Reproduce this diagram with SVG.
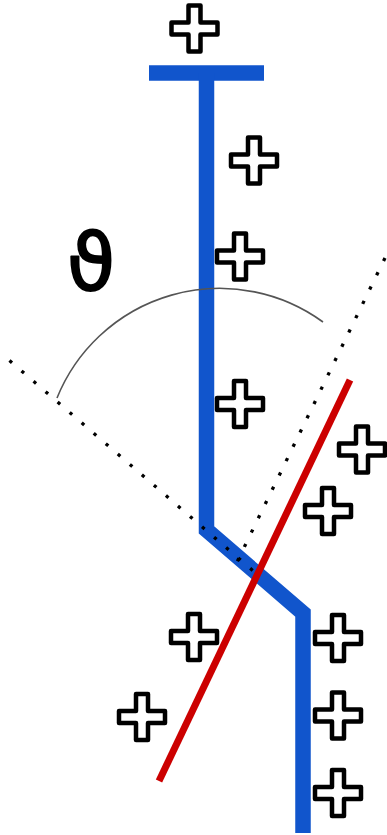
<svg xmlns="http://www.w3.org/2000/svg" width="387" height="835" viewBox="0 0 387 835">
<style>
.blue{fill:none;stroke:#1155cc;stroke-width:15.5;stroke-linejoin:miter;stroke-linecap:butt}
.red{fill:none;stroke:#cc0000;stroke-width:7}
.dot{fill:none;stroke:#000;stroke-width:3.3;stroke-dasharray:3.3 12.6}
.arc{fill:none;stroke:#555;stroke-width:1.6}
.cross{fill:#fff;stroke:#000;stroke-width:4.5;stroke-linejoin:round}
.lbl{font-family:"DejaVu Sans",sans-serif;font-size:78px;fill:#000;stroke:#000;stroke-width:2;stroke-linejoin:round}
</style>
<defs>
<path id="plus" d="M-6,-23 H6 V-6 H23 V6 H6 V23 H-6 V6 H-23 V-6 H-6 Z"/>
</defs>
<rect width="387" height="835" fill="#fff"/>
<g id="connectors">
<path id="wire-top" class="blue" d="M149,73 H264"/>
<path id="wire" class="blue" d="M206.5,73 V530 L303,613 V833"/>
<path id="red-line" class="red" d="M159,781 L350,380"/>
<path id="dotted-left" class="dot" d="M9.5,360.5 L255,572.5"/>
<path id="dotted-right" class="dot" d="M385,258 L237,562"/>
<path id="angle-arc" class="arc" d="M57,398 A175.5,175.5 0 0 1 323,322"/>
</g>
<g id="theta"><text class="lbl" x="67" y="290">ϑ</text></g>
<g id="c1"><use href="#plus" class="cross" x="194.5" y="28.5"/></g>
<g id="c2"><use href="#plus" class="cross" x="254" y="160.5"/></g>
<g id="c3"><use href="#plus" class="cross" x="240" y="256.5"/></g>
<g id="c4"><use href="#plus" class="cross" x="240" y="404"/></g>
<g id="c5"><use href="#plus" class="cross" x="362" y="449.5"/></g>
<g id="c6"><use href="#plus" class="cross" x="328" y="511"/></g>
<g id="c7"><use href="#plus" class="cross" x="194" y="637"/></g>
<g id="c8"><use href="#plus" class="cross" x="142" y="717"/></g>
<g id="c9"><use href="#plus" class="cross" x="338" y="638"/></g>
<g id="c10"><use href="#plus" class="cross" x="338" y="715.5"/></g>
<g id="c11"><use href="#plus" class="cross" x="338" y="793"/></g>
</svg>
